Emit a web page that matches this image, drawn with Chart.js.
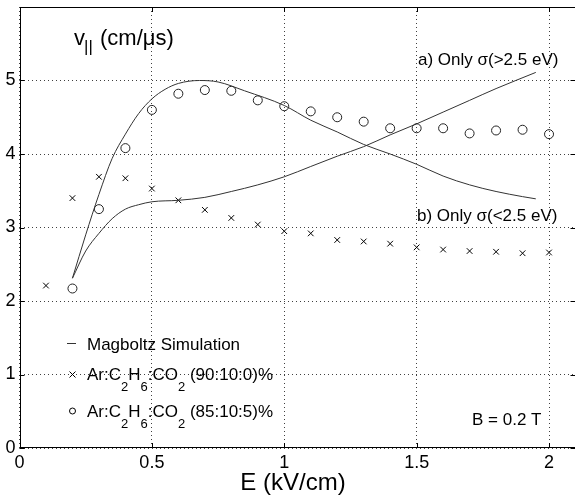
<!DOCTYPE html>
<html>
<head>
<meta charset="utf-8">
<script src="https://cdn.jsdelivr.net/npm/chart.js@4/dist/chart.umd.min.js"></script>
<style>
  html, body { margin: 0; padding: 0; background: #fff; overflow: hidden; }
  #wrap { width: 581px; height: 496px; }
</style>
</head>
<body>
<div id="wrap"><canvas id="c" width="581" height="496"></canvas></div>
<script>
// Ar:C2H6:CO2 (90:10:0)% measurements
const fieldE90 = [0.1, 0.2, 0.3, 0.4, 0.5, 0.6, 0.7, 0.8, 0.9, 1.0, 1.1, 1.2, 1.3, 1.4, 1.5, 1.6, 1.7, 1.8, 1.9, 2.0];
const drift90 = [2.21, 3.40, 3.69, 3.67, 3.53, 3.37, 3.24, 3.13, 3.04, 2.95, 2.92, 2.83, 2.81, 2.78, 2.73, 2.70, 2.68, 2.67, 2.65, 2.66];

// Ar:C2H6:CO2 (85:10:5)% measurements
const fieldE85 = [0.2, 0.3, 0.4, 0.5, 0.6, 0.7, 0.8, 0.9, 1.0, 1.1, 1.2, 1.3, 1.4, 1.5, 1.6, 1.7, 1.8, 1.9, 2.0];
const drift85 = [2.17, 3.25, 4.08, 4.60, 4.82, 4.87, 4.86, 4.73, 4.65, 4.58, 4.50, 4.44, 4.35, 4.35, 4.35, 4.28, 4.32, 4.33, 4.27];

// Magboltz curve a) only sigma(>2.5 eV)
const simEa = [0.2, 0.25, 0.3, 0.35, 0.4, 0.45, 0.5, 0.6, 0.7, 0.8, 0.9, 1.0, 1.1, 1.2, 1.3, 1.4, 1.5, 1.6, 1.7, 1.8, 1.95];
const simVa = [2.31, 2.68, 2.92, 3.12, 3.25, 3.31, 3.35, 3.37, 3.41, 3.49, 3.58, 3.69, 3.83, 3.97, 4.10, 4.26, 4.41, 4.57, 4.73, 4.89, 5.11];

// Magboltz curve b) only sigma(<2.5 eV)
const simEb = [0.2, 0.25, 0.3, 0.35, 0.4, 0.45, 0.5, 0.55, 0.6, 0.68, 0.75, 0.85, 1.0, 1.1, 1.2, 1.3, 1.4, 1.5, 1.6, 1.7, 1.8, 1.9, 1.95];
const simVb = [2.31, 2.90, 3.45, 3.94, 4.27, 4.55, 4.75, 4.88, 4.96, 5.00, 4.98, 4.86, 4.66, 4.46, 4.30, 4.13, 4.00, 3.86, 3.70, 3.58, 3.49, 3.42, 3.39];

const xTicks = [0, 0.5, 1, 1.5, 2];
const yTicks = [0, 1, 2, 3, 4, 5];

const FONT = '"Liberation Sans", Arial, Helvetica, sans-serif';
const pts = (xs, ys) => xs.map((x, i) => ({ x: x, y: ys[i] }));

// draw a string made of normal / subscript pieces
function drawRuns(ctx, x, y, runs, size, subSize, drop) {
    ctx.textBaseline = 'alphabetic';
    ctx.textAlign = 'left';
    runs.forEach(r => {
        const sub = r[1];
        ctx.font = (sub ? subSize : size) + 'px ' + FONT;
        ctx.fillText(r[0], x, sub ? y + drop : y);
        x += ctx.measureText(r[0]).width;
    });
}

// no automatic label padding, the plot box is placed by hand
function noPad(s) {
    s.paddingTop = 0;
    s.paddingBottom = 0;
    s.paddingLeft = 0;
    s.paddingRight = 0;
}

const overlay = {
    id: 'overlay',
    afterDraw(chart) {
        const ctx = chart.ctx;
        const a = chart.chartArea;
        const xs = chart.scales.x, ys = chart.scales.y;
        ctx.save();
        ctx.strokeStyle = '#000';
        ctx.lineWidth = 1;
        ctx.setLineDash([]);
        // box
        ctx.beginPath();
        ctx.moveTo(Math.round(a.left) + 0.5, Math.round(a.bottom) - 0.5);
        ctx.lineTo(Math.round(a.left) + 0.5, Math.round(a.top) + 0.5);
        ctx.lineTo(a.right, Math.round(a.top) + 0.5);
        ctx.moveTo(Math.round(a.left), Math.round(a.bottom) - 0.5);
        ctx.lineTo(a.right, Math.round(a.bottom) - 0.5);
        // inward ticks
        xTicks.forEach(v => {
            const px = Math.round(xs.getPixelForValue(v)) + 0.5;
            ctx.moveTo(px, a.bottom); ctx.lineTo(px, a.bottom - 5);
            ctx.moveTo(px, a.top); ctx.lineTo(px, a.top + 5);
        });
        yTicks.forEach(v => {
            const py = Math.round(ys.getPixelForValue(v)) + 0.5;
            ctx.moveTo(a.left, py); ctx.lineTo(a.left + 5, py);
            ctx.moveTo(a.right, py); ctx.lineTo(a.right - 5, py);
        });
        ctx.stroke();

        ctx.fillStyle = '#000';
        // y label
        ctx.font = '22px ' + FONT;
        ctx.fillText('v', 74, 45);
        ctx.font = '17px ' + FONT;
        ctx.fillText('||', 84, 52);
        ctx.font = '22px ' + FONT;
        ctx.fillText('(cm/\u03BCs)', 100, 45);

        // x title
        ctx.font = '24px ' + FONT;
        ctx.textAlign = 'center';
        ctx.fillText('E (kV/cm)', 293, 490);
        ctx.textAlign = 'left';

        // curve annotations
        ctx.font = '17px ' + FONT;
        ctx.fillText('a) Only \u03C3(>2.5 eV)', 418, 65);
        ctx.fillText('b) Only \u03C3(<2.5 eV)', 417, 221);
        ctx.fillText('B = 0.2 T', 472, 425);

        // legend
        ctx.strokeStyle = '#333';
        ctx.beginPath();
        ctx.moveTo(67, 343.5); ctx.lineTo(76, 343.5);
        ctx.stroke();
        ctx.strokeStyle = '#000';
        ctx.beginPath();
        ctx.moveTo(69.5, 371.5); ctx.lineTo(75.5, 377.5);
        ctx.moveTo(75.5, 371.5); ctx.lineTo(69.5, 377.5);
        ctx.stroke();
        ctx.beginPath();
        ctx.arc(72.5, 411, 3, 0, Math.PI * 2);
        ctx.stroke();

        ctx.font = '17px ' + FONT;
        ctx.fillText('Magboltz Simulation', 87, 350);
        drawRuns(ctx, 87, 380, [['Ar:C', 0], ['2', 1], ['H', 0], ['6', 1], [':CO', 0], ['2', 1], [' (90:10:0)%', 0]], 17, 13, 11);
        drawRuns(ctx, 87, 417, [['Ar:C', 0], ['2', 1], ['H', 0], ['6', 1], [':CO', 0], ['2', 1], [' (85:10:5)%', 0]], 17, 13, 11);
        ctx.restore();
    }
};

new Chart(document.getElementById('c'), {
    type: 'scatter',
    data: {
        datasets: [
            {
                label: 'a',
                data: pts(simEa, simVa),
                showLine: true,
                borderColor: '#333',
                borderWidth: 1,
                pointRadius: 0,
                cubicInterpolationMode: 'monotone'
            },
            {
                label: 'b',
                data: pts(simEb, simVb),
                showLine: true,
                borderColor: '#333',
                borderWidth: 1,
                pointRadius: 0,
                cubicInterpolationMode: 'monotone'
            },
            {
                label: '90:10:0',
                data: pts(fieldE90, drift90),
                pointStyle: 'crossRot',
                pointRadius: 4,
                borderColor: '#000',
                borderWidth: 1,
                backgroundColor: '#000'
            },
            {
                label: '85:10:5',
                data: pts(fieldE85, drift85),
                pointStyle: 'circle',
                pointRadius: 4.5,
                borderColor: '#222',
                borderWidth: 1,
                backgroundColor: 'rgba(0,0,0,0)'
            }
        ]
    },
    options: {
        responsive: false,
        animation: false,
        layout: { padding: { top: 7, left: 0, right: 0, bottom: 0 } },
        plugins: {
            legend: { display: false },
            tooltip: { enabled: false }
        },
        scales: {
            x: {
                type: 'linear',
                min: 0,
                max: 2.1,
                afterBuildTicks: s => { s.ticks = xTicks.map(v => ({ value: v })); },
                afterFit: s => { s.height = 48; noPad(s); },
                ticks: {
                    color: '#000',
                    font: { family: FONT, size: 18 },
                    padding: 4,
                    maxRotation: 0,
                    callback: v => String(v)
                },
                grid: { color: 'rgba(0,0,0,0.75)', drawTicks: false },
                border: { display: false, dash: [1, 3] }
            },
            y: {
                type: 'linear',
                min: 0,
                max: 6,
                afterBuildTicks: s => { s.ticks = yTicks.map(v => ({ value: v })); },
                afterFit: s => { s.width = 19.5; noPad(s); },
                ticks: {
                    color: '#000',
                    font: { family: FONT, size: 18 },
                    padding: 4,
                    callback: v => String(v)
                },
                grid: { color: 'rgba(0,0,0,0.75)', drawTicks: false },
                border: { display: false, dash: [1, 3] }
            }
        }
    },
    plugins: [overlay]
});
</script>
</body>
</html>
